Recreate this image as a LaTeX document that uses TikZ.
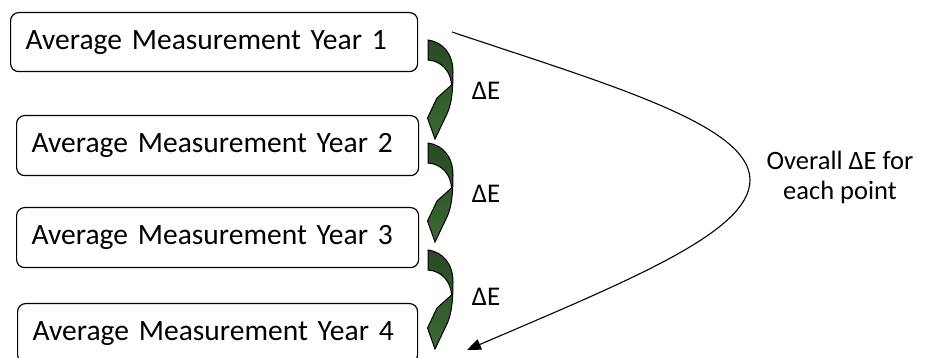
\documentclass[tikz,border=0pt]{standalone}
\usepackage{fontspec}
\setmainfont{Carlito}
\usetikzlibrary{arrows.meta}
\definecolor{gtop}{RGB}{42,74,37}
\definecolor{gbot}{RGB}{58,106,50}
\tikzset{
  box/.style={draw=black, line width=1.2pt, rounded corners=8pt, anchor=north west,
    inner xsep=15pt, inner ysep=0pt, align=left, font=\fontsize{29.5}{34}\selectfont},
  delta/.style={font=\fontsize{27}{30}\selectfont, inner sep=0pt},
  note/.style={font=\fontsize{26.5}{30}\selectfont, align=center, inner sep=0pt},
  greenarrow/.style={draw=black, line width=1pt, top color=gtop, bottom color=gbot, line join=miter},
  overall/.style={draw=black, line width=1.1pt, -{Triangle[length=14pt,width=11pt]}}
}
\newcommand{\curvedarrowshape}{%
  (0,0) .. controls (15,2) and (25,14) .. (25,32)
  .. controls (25,58) and (22,68) .. (18,76)
  -- (7,99) -- (-0.5,78) -- (9,58) -- (23.5,45)
  .. controls (23,32) and (14,21) .. (0,20) -- cycle}
\begin{document}
\begin{tikzpicture}[x=1pt,y=-1pt]
\useasboundingbox (0,0) rectangle (943,358);
\node[box, minimum height=59pt, text width=377pt] (b1) at (10,12) {Average Measurement Year 1};
\node[box, minimum height=60pt, text width=372pt] (b2) at (16,115) {Average Measurement Year 2};
\node[box, minimum height=60pt, text width=372pt] (b3) at (16,207) {Average Measurement Year 3};
\node[box, minimum height=59pt, text width=370pt] (b4) at (17,303) {Average Measurement Year 4};
% curved green arrows between boxes
\coordinate (a1) at (428,40);
\coordinate (a2) at (428,143);
\coordinate (a3) at (428,250);
\foreach \a in {a1,a2,a3}{
  \begin{scope}[shift={(\a)}]
    \path[greenarrow] \curvedarrowshape;
  \end{scope}
}
\node[delta] (d1) at (486,91) {ΔE};
\node[delta] (d2) at (486,194) {ΔE};
\node[delta] (d3) at (486,297) {ΔE};
% overall curve
\coordinate (s) at (452,32);
\coordinate (apex) at (750,180);
\coordinate (e) at (467,350);
\draw[overall] (s) .. controls (610,85) and (750,125) .. (apex)
  .. controls (750,232) and (630,280) .. (e);
\node[note] (ov) at (840,177) {Overall ΔE for\\each point};
\end{tikzpicture}
\end{document}
